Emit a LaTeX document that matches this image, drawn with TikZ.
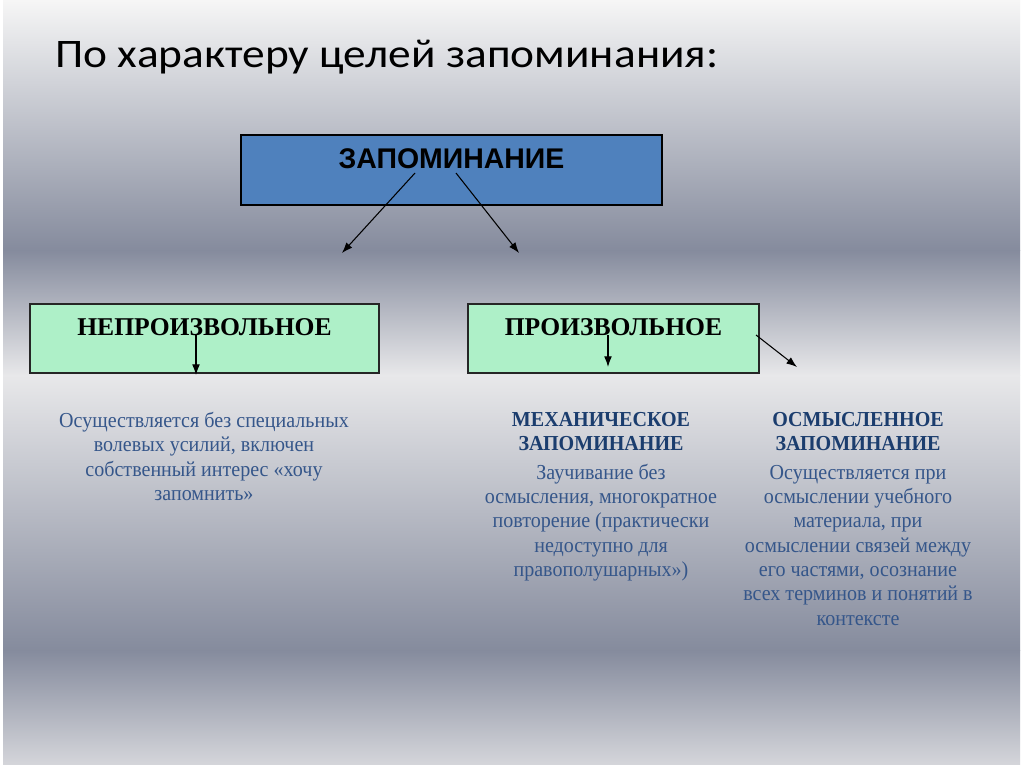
\documentclass[tikz,border=0pt]{standalone}
\usepackage{fontspec}
\setmainfont{Liberation Serif}
\newfontfamily\titlefont[FakeStretch=1.12]{Carlito}
\newfontfamily\boxfont{Liberation Sans}
\newfontfamily\notefont[FakeStretch=0.94]{Liberation Serif}
\usetikzlibrary{shapes.geometric, arrows.meta, calc}
\definecolor{boxblue}{HTML}{4F81BD}
\definecolor{boxgreen}{HTML}{AEF0C8}
\definecolor{headblue}{HTML}{1B3D6E}
\definecolor{textblue}{HTML}{35568A}
\definecolor{bgtop}{HTML}{F6F6F6}
\definecolor{bgdark}{HTML}{858B9D}
\definecolor{bglight}{HTML}{E8E8EA}
\definecolor{bgbottom}{HTML}{D4D5DA}
\newcommand{\notehead}[1]{{\color{headblue}\bfseries #1}}
\tikzstyle{mainbox} = [rectangle, 
minimum width=296pt, 
inner sep=0pt, 
text height=23.2pt, 
text depth=26pt, 
draw=black, 
line width=1pt, 
fill=boxblue, 
font=\boxfont\bfseries\fontsize{20}{24}\selectfont]
\tikzstyle{kindbox} = [rectangle, 
inner sep=0pt, 
text height=21.8pt, 
text depth=26.7pt, 
draw=black!85, 
line width=1pt, 
fill=boxgreen, 
font=\bfseries\fontsize{18}{21}\selectfont]
\tikzstyle{note} = [align=center, 
inner sep=0pt, 
anchor=north, 
text=textblue, 
font=\notefont\fontsize{15}{17.1}\selectfont]
\tikzstyle{arrow} = [line width=0.75pt,->,>={Latex[length=7.5pt,width=5.5pt]}]
\begin{document}
\begin{tikzpicture}[x=0.703125pt, y=-0.703125pt]
\useasboundingbox (0,0) rectangle (1024,767);

% background
\fill[white] (0,0) rectangle (1024,767);
\shade[top color=bgtop, bottom color=bgdark] (3,0) rectangle (1020,250.5);
\shade[top color=bgdark, bottom color=bglight] (3,250) rectangle (1020,375.5);
\shade[top color=bglight, bottom color=bgdark] (3,375) rectangle (1020,650.5);
\shade[top color=bgdark, bottom color=bgbottom] (3,650) rectangle (1020,764);

\node (title) [anchor=base west, font=\titlefont\fontsize{28.5}{34}\selectfont] at (50,68) {По характеру целей запоминания:};

\node (memo) [mainbox] at (451.5,170) {ЗАПОМИНАНИЕ};
\node (invol) [kindbox, minimum width=245.4pt] at (204.5,338.5) {НЕПРОИЗВОЛЬНОЕ};
\node (vol) [kindbox, minimum width=204.6pt] at (613.5,338.5) {ПРОИЗВОЛЬНОЕ};

\node (involnote) [note] at (204,412) {Осуществляется без специальных\\
волевых усилий, включен\\
собственный интерес «хочу\\
запомнить»};
\node (mechnote) [note] at (601,412) {\notehead{МЕХАНИЧЕСКОЕ}\\
\notehead{ЗАПОМИНАНИЕ}\\[3pt]
Заучивание без\\
осмысления, многократное\\
повторение (практически\\
недоступно для\\
правополушарных»)};
\node (sensenote) [note] at (858,412) {\notehead{ОСМЫСЛЕННОЕ}\\
\notehead{ЗАПОМИНАНИЕ}\\[3pt]
Осуществляется при\\
осмыслении учебного\\
материала, при\\
осмыслении связей между\\
его частями, осознание\\
всех терминов и понятий в\\
контексте};

% arrows
\coordinate (memoleft) at (415,173);
\coordinate (memoright) at (456,173);
\coordinate (involtop) at (342,253);
\coordinate (voltop) at (519,253);
\coordinate (involstart) at (196,334);
\coordinate (involend) at (196,375);
\coordinate (mechstart) at (608,335);
\coordinate (mechend) at (608,367);
\coordinate (sensestart) at (756,335);
\coordinate (senseend) at (797,367);
\draw [arrow] (memoleft) -- (involtop);
\draw [arrow] (memoright) -- (voltop);
\draw [arrow] (involstart) -- (involend);
\draw [arrow] (mechstart) -- (mechend);
\draw [arrow] (sensestart) -- (senseend);

\end{tikzpicture}
\end{document}
